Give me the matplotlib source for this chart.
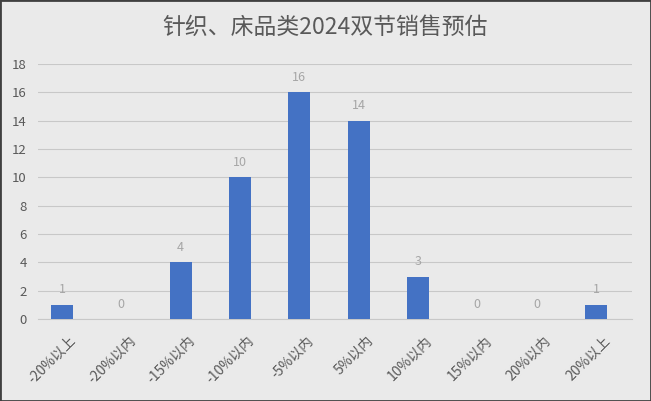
import matplotlib
matplotlib.use("Agg")
import matplotlib.pyplot as plt
from matplotlib.patches import Rectangle
from matplotlib.transforms import ScaledTranslation

plt.rcParams['font.family'] = ['Noto Sans CJK SC', 'DejaVu Sans']

categorias = ["-20%以上", "-20%以内", "-15%以内", "-10%以内", "-5%以内",
              "5%以内", "10%以内", "15%以内", "20%以内", "20%以上"]
valores = [1, 0, 4, 10, 16, 14, 3, 0, 0, 1]
titulo = "针织、床品类2024双节销售预估"

fondo = "#EAEAEA"
azul = "#4472C4"
gris_texto = "#595959"

fig = plt.figure(figsize=(6.51, 4.01), dpi=100, facecolor=fondo)
ax = fig.add_axes([38 / 651, 1 - 319 / 401, 594 / 651, 255 / 401])
ax.set_facecolor(fondo)

x = list(range(len(categorias)))
ax.bar(x, valores, width=0.37, color=azul, zorder=3)
for xi, v in zip(x, valores):
    ax.text(xi, v + 0.6, str(v), ha="center", va="bottom", fontsize=9, color="#A6A6A6")

# el eje de categorias en el original no es simetrico
ax.set_xlim(-0.405, 9.607)
ax.set_ylim(0, 18)
ax.set_yticks(range(0, 19, 2))
ax.yaxis.grid(True, color="#C8C8C8", linewidth=0.8, zorder=0)
ax.tick_params(axis="y", length=0, colors=gris_texto, labelsize=9.5, pad=8)
ax.tick_params(axis="x", length=0, colors=gris_texto, labelsize=10, pad=4)
ax.set_xticks(x)
ax.set_xticklabels(categorias, rotation=45, ha="right", rotation_mode="anchor")
desplazar = ScaledTranslation(7 / 100, -9 / 100, fig.dpi_scale_trans)
for etiqueta in ax.get_xticklabels():
    etiqueta.set_transform(etiqueta.get_transform() + desplazar)
for lado in ["top", "right", "left"]:
    ax.spines[lado].set_visible(False)
ax.spines["bottom"].set_color("#C8C8C8")

fig.text(0.5, 1 - 27 / 401, titulo, ha="center", va="center", fontsize=16.5, color=gris_texto)

fig.patches.append(Rectangle((0, 0), 1, 1, transform=fig.transFigure, fill=False,
                             edgecolor="#404040", linewidth=2))

fig.savefig("out.png", dpi=100, facecolor=fondo)
